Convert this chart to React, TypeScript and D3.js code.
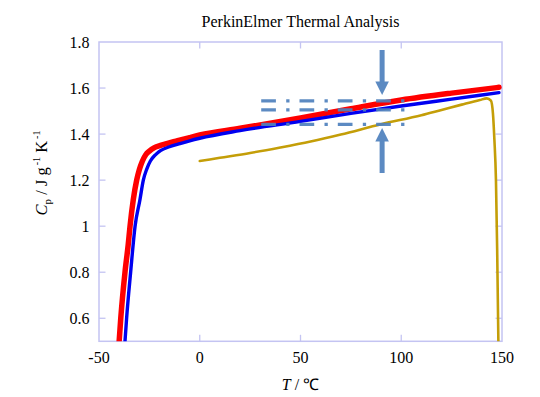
import React from 'react';
import * as d3 from 'd3';

const width = 540;
const height = 397;
const margin = { top: 42, right: 38, bottom: 55.7, left: 99 };

// heating curves, temperature (°C) vs Cp
const tempRed = [-40, -39.2, -37.1, -35.5, -34.6, -33, -31.3, -30, -28.5, -26.8, -25, -22.5, -19.5, -16, -11, -5, 0, 20, 50, 75, 100, 125, 148.5];
const cpRed = [0.5, 0.6, 0.8, 0.92, 1.0, 1.114, 1.2, 1.245, 1.282, 1.31, 1.326, 1.341, 1.351, 1.36, 1.371, 1.385, 1.396, 1.425, 1.47, 1.51, 1.548, 1.578, 1.603];

const tempBlue = [-37.1, -36.3, -34.3, -32.1, -29.7, -28, -26.3, -24.5, -22, -19.5, -15, -9.8, -5, 0, 20, 50, 75, 100, 125, 148.5];
const cpBlue = [0.5, 0.6, 0.8, 1.0, 1.114, 1.2, 1.248, 1.283, 1.31, 1.328, 1.345, 1.359, 1.371, 1.382, 1.415, 1.455, 1.49, 1.522, 1.552, 1.58];

const tempGold = [0, 10, 25, 40, 55, 70, 90, 110, 120, 130, 139, 142.5, 144.5, 145.5, 146.2, 147, 147.6, 148.2];
const cpGold = [1.283, 1.297, 1.318, 1.342, 1.368, 1.398, 1.443, 1.482, 1.505, 1.528, 1.548, 1.555, 1.545, 1.49, 1.38, 1.2, 0.9, 0.5];

const xTicks = [-50, 0, 50, 100, 150];
const yTicks = [0.6, 0.8, 1, 1.2, 1.4, 1.6, 1.8];

// dash-dot guide lines and arrows
const guideLevels = [1.544, 1.505, 1.442];
const guideStart = 30.5;
const guideEnd = 102;
const arrowTemp = 90.5;

const frameColor = '#c4c4f2';
const noteColor = '#4f81bd';
const serif = '"Liberation Serif", "Times New Roman", serif';

export default function App() {
  const innerW = width - margin.left - margin.right;
  const innerH = height - margin.top - margin.bottom;

  const x = d3.scaleLinear().domain([-50, 150]).range([margin.left, margin.left + innerW]);
  const y = d3.scaleLinear().domain([0.5, 1.8]).range([margin.top + innerH, margin.top]);

  const line = d3
    .line<[number, number]>()
    .x((d) => x(d[0]))
    .y((d) => y(d[1]))
    .curve(d3.curveMonotoneX);

  const zip = (a: number[], b: number[]) => a.map((t, i) => [t, b[i]] as [number, number]);

  const ax = x(arrowTemp);
  const topY = y(1.8);
  const botY = y(0.5);

  return (
    <svg width={width} height={height} style={{ position: 'absolute', left: 0, top: 0, background: '#fff' }}>
      <defs>
        <clipPath id="plot">
          <rect x={margin.left} y={margin.top} width={innerW} height={innerH} />
        </clipPath>
        <filter id="soft" x="-5%" y="-50%" width="110%" height="200%">
          <feGaussianBlur stdDeviation="0.6" />
        </filter>
      </defs>

      <text x={x(50)} y={26.5} textAnchor="middle" fontFamily={serif} fontSize={16}>
        PerkinElmer Thermal Analysis
      </text>

      {/* frame */}
      <rect x={margin.left} y={margin.top} width={innerW} height={innerH} fill="none" stroke={frameColor} strokeWidth={1.5} />

      {xTicks.map((t) => (
        <g key={t}>
          {t > -50 && t < 150 && (
            <>
              <line x1={x(t)} x2={x(t)} y1={botY} y2={botY - 6.5} stroke={frameColor} strokeWidth={1.3} />
              <line x1={x(t)} x2={x(t)} y1={topY} y2={topY + 6.5} stroke={frameColor} strokeWidth={1.3} />
            </>
          )}
          <text x={x(t)} y={363} textAnchor="middle" fontFamily={serif} fontSize={16}>
            {t}
          </text>
        </g>
      ))}

      {yTicks.map((t) => (
        <g key={t}>
          {t < 1.8 && (
            <>
              <line x1={margin.left} x2={margin.left + 6.5} y1={y(t)} y2={y(t)} stroke={frameColor} strokeWidth={1.3} />
              <line x1={margin.left + innerW} x2={margin.left + innerW - 6.5} y1={y(t)} y2={y(t)} stroke={frameColor} strokeWidth={1.3} />
            </>
          )}
          <text x={89.5} y={y(t) + 5.5} textAnchor="end" fontFamily={serif} fontSize={16}>
            {t === 1 ? '1' : t.toFixed(1)}
          </text>
        </g>
      ))}

      <g clipPath="url(#plot)" fill="none" strokeLinejoin="round" strokeLinecap="round">
        <path d={line(zip(tempRed, cpRed)) ?? ''} stroke="#ff0000" strokeWidth={5.5} />
        <path d={line(zip(tempBlue, cpBlue)) ?? ''} stroke="#0000f0" strokeWidth={3.4} />
        <path d={line(zip(tempGold, cpGold)) ?? ''} stroke="#c49e08" strokeWidth={2.6} />
      </g>

      {/* annotation */}
      <g filter="url(#soft)" opacity={0.92}>
        {guideLevels.map((lv) => (
          <line
            key={lv}
            x1={x(guideStart)}
            x2={x(guideEnd)}
            y1={y(lv)}
            y2={y(lv)}
            stroke={noteColor}
            strokeWidth={3.2}
            strokeDasharray="14.7 10.3 3.3 10"
          />
        ))}
        <rect x={ax - 2.5} y={50} width={5} height={32} fill={noteColor} />
        <path d={`M${ax - 6.8},81.5 L${ax + 6.8},81.5 L${ax},95 Z`} fill={noteColor} />
        <rect x={ax - 2.5} y={141} width={5} height={32} fill={noteColor} />
        <path d={`M${ax - 6.8},141.5 L${ax + 6.8},141.5 L${ax},128 Z`} fill={noteColor} />
      </g>

      <text
        transform={`translate(47,173) rotate(-90)`}
        textAnchor="middle"
        fontFamily={serif}
        fontSize={16.5}
      >
        <tspan fontStyle="italic">C</tspan>
        <tspan fontSize={11} dy={4}>p</tspan>
        <tspan dy={-4}> / J g</tspan>
        <tspan fontSize={10} dx={2} dy={-7}>-1</tspan>
        <tspan dy={7}> K</tspan>
        <tspan fontSize={10} dx={2} dy={-7}>-1</tspan>
      </text>

      <text x={x(50)} y={390} textAnchor="middle" fontFamily={serif} fontSize={16}>
        <tspan fontStyle="italic">T</tspan>
        <tspan> / ℃</tspan>
      </text>
    </svg>
  );
}
